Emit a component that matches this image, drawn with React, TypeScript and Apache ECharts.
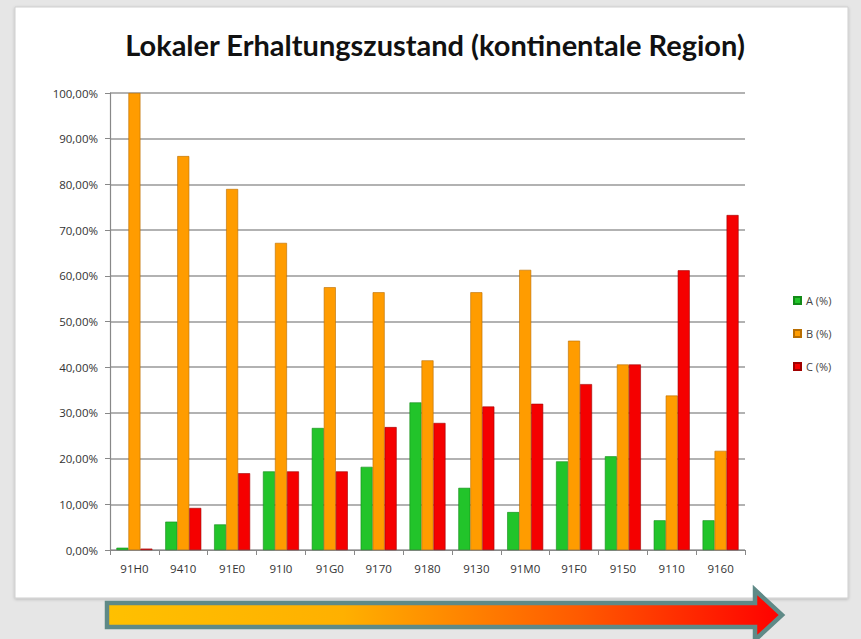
import React, { useEffect, useRef } from "react";
import * as echarts from "echarts";

const categories = ["91H0", "9410", "91E0", "91I0", "91G0", "9170", "9180", "9130", "91M0", "91F0", "9150", "9110", "9160"];
const seriesA = [0.5, 6.2, 5.6, 17.2, 26.7, 18.2, 32.3, 13.6, 8.3, 19.4, 20.5, 6.5, 6.5];
const seriesB = [100, 86.2, 79.0, 67.2, 57.5, 56.4, 41.5, 56.4, 61.3, 45.8, 40.6, 33.8, 21.7];
const seriesC = [0.3, 9.2, 16.8, 17.2, 17.2, 26.9, 27.8, 31.4, 32.0, 36.3, 40.6, 61.2, 73.3];
const seriesNames = ["A (%)", "B (%)", "C (%)"];
const title = "Lokaler Erhaltungszustand (kontinentale Region)";

export default function App() {
  const ref = useRef<HTMLDivElement>(null);
  useEffect(() => {
    if (!ref.current) return;
    const chart = echarts.init(ref.current, undefined, { renderer: "svg" });
    const fmt = (v: number) => v.toFixed(2).replace(".", ",") + "%";
    const mk = (name: string, data: number[], color: string, edge: string) => ({
      name,
      type: "bar",
      data,
      barWidth: 12,
      barGap: "0%",
      itemStyle: { color, borderColor: edge, borderWidth: 0.6 },
    });
    chart.setOption({
      animation: false,
      backgroundColor: "#e6e6e6",
      title: {
        text: title,
        left: 430,
        textAlign: "center",
        top: 25,
        textStyle: { fontFamily: "Lato", fontWeight: "bold", fontSize: 29, color: "#111" },
      },
      legend: {
        orient: "vertical",
        left: 788,
        top: 290,
        itemWidth: 7,
        itemHeight: 7,
        itemGap: 22,
        icon: "rect",
        textStyle: { fontFamily: "Open Sans", fontSize: 11, color: "#444" },
        data: seriesNames,
      },
      grid: { left: 110, right: 116, top: 93, bottom: 89, containLabel: false },
      xAxis: {
        type: "category",
        data: categories,
        axisLine: { lineStyle: { color: "#888", width: 1.2 } },
        axisTick: { show: true, lineStyle: { color: "#888" } },
        axisLabel: { fontFamily: "Open Sans", fontSize: 11.5, color: "#333", margin: 12 },
      },
      yAxis: {
        type: "value",
        min: 0,
        max: 100,
        interval: 10,
        axisLine: { show: true, lineStyle: { color: "#888", width: 1.2 } },
        axisTick: { show: true, lineStyle: { color: "#888" } },
        splitLine: { lineStyle: { color: "#999", width: 1.5 } },
        axisLabel: { formatter: fmt, fontFamily: "Open Sans", fontSize: 11.5, color: "#333", margin: 12 },
      },
      graphic: [
        {
          type: "rect",
          z: -10,
          shape: { x: 15, y: 7, width: 833, height: 591 },
          style: { fill: "#ffffff", stroke: "#cfcfcf", lineWidth: 1, shadowColor: "rgba(0,0,0,0.2)", shadowBlur: 3, shadowOffsetY: 1 },
        },
        {
          type: "polygon",
          z: 100,
          shape: {
            points: [
              [107, 603],
              [755, 603],
              [755, 590],
              [782, 615],
              [755, 640],
              [755, 627],
              [107, 627],
            ],
          },
          style: {
            fill: new echarts.graphic.LinearGradient(0, 0, 1, 0, [
              { offset: 0, color: "#ffc000" },
              { offset: 0.35, color: "#ffb000" },
              { offset: 0.7, color: "#ff5a00" },
              { offset: 1, color: "#ff0000" },
            ]),
            stroke: "#5f8a87",
            lineWidth: 4.5,
            lineJoin: "miter",
          },
        },
      ],
      series: [
        mk(seriesNames[0], seriesA, "#22c42a", "#128a18"),
        mk(seriesNames[1], seriesB, "#ff9c00", "#b86d00"),
        mk(seriesNames[2], seriesC, "#f50000", "#a00000"),
      ],
    });
    return () => chart.dispose();
  }, []);
  return <div ref={ref} style={{ position: "fixed", left: 0, top: 0, width: 861, height: 639 }} />;
}
